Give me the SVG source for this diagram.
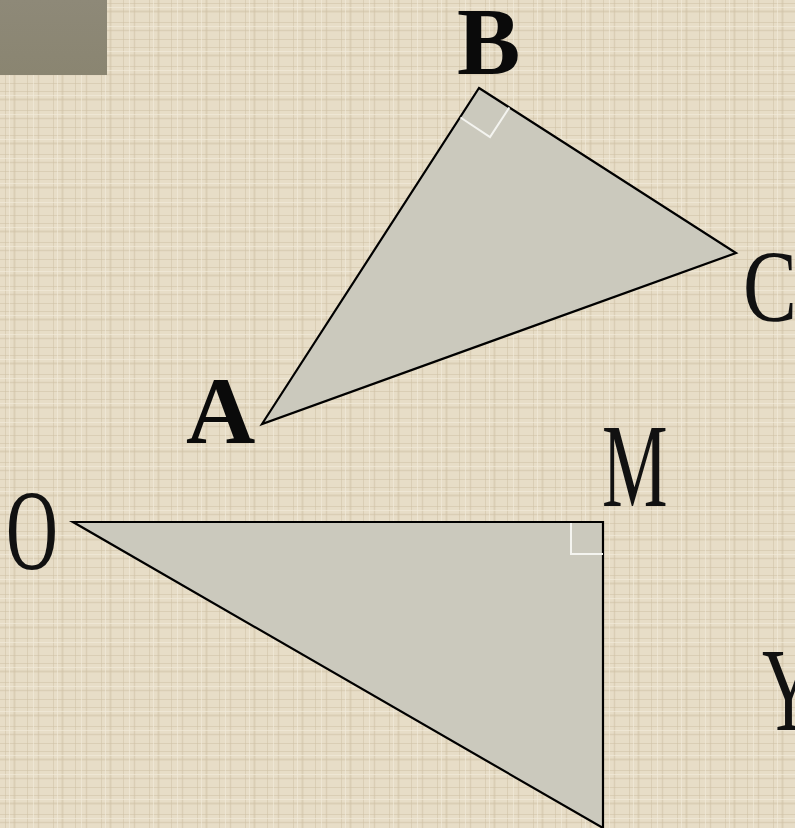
<svg xmlns="http://www.w3.org/2000/svg" width="795" height="828" viewBox="0 0 795 828">
  <style>
    .tri { fill: #cbc9bd; stroke: #000; stroke-width: 2.2; stroke-linejoin: miter; }
    .mark { fill: none; stroke: #f4f4f0; stroke-width: 2; }
    .lbl { font-family: "Liberation Serif", "Times New Roman", serif; fill: #111; }
    .bold { font-weight: bold; fill: #0a0a0a; }
  </style>
  <defs>
    <linearGradient id="box" x1="0" y1="0" x2="0" y2="1">
      <stop offset="0" stop-color="#8e8978"/>
      <stop offset="1" stop-color="#8a8571"/>
    </linearGradient>
    <pattern id="tex" width="48" height="44" patternUnits="userSpaceOnUse">
      <rect width="48" height="44" fill="#e7ddc7"/>
      <g stroke="#cdbfa3" stroke-opacity="0.5">
        <line x1="0" y1="3.5" x2="48" y2="3.5" stroke-width="1"/>
        <line x1="0" y1="11.5" x2="48" y2="11.5" stroke-width="2"/>
        <line x1="0" y1="22.5" x2="48" y2="22.5" stroke-width="1"/>
        <line x1="0" y1="30.5" x2="48" y2="30.5" stroke-width="1.5"/>
        <line x1="0" y1="39.5" x2="48" y2="39.5" stroke-width="1"/>
        <line x1="5.5" y1="0" x2="5.5" y2="44" stroke-width="1"/>
        <line x1="14.5" y1="0" x2="14.5" y2="44" stroke-width="2"/>
        <line x1="27.5" y1="0" x2="27.5" y2="44" stroke-width="1"/>
        <line x1="38.5" y1="0" x2="38.5" y2="44" stroke-width="1.5"/>
      </g>
      <g stroke="#f3ecdc" stroke-opacity="0.6">
        <line x1="0" y1="7.5" x2="48" y2="7.5" stroke-width="1"/>
        <line x1="0" y1="26.5" x2="48" y2="26.5" stroke-width="1"/>
        <line x1="9.5" y1="0" x2="9.5" y2="44" stroke-width="1"/>
        <line x1="33.5" y1="0" x2="33.5" y2="44" stroke-width="1"/>
      </g>
    </pattern>
  </defs>

  <rect id="background" width="795" height="828" fill="url(#tex)"/>
  <rect id="corner-box" x="0" y="0" width="107" height="75" fill="url(#box)"/>

  <g id="triangle-ABC">
    <polygon class="tri" points="479,88 736,253 262,424"/>
    <polyline class="mark" points="509.3,107.5 490,137 460.5,117.5"/>
  </g>

  <g id="triangle-OMY">
    <polygon class="tri" points="73,522 603,522 603,828"/>
    <polyline class="mark" points="571,523 571,554 603,554"/>
  </g>

  <g id="labels">
    <text id="label-B" class="lbl bold" x="457" y="74" font-size="95">B</text>
    <text id="label-A" class="lbl bold" x="186" y="443" font-size="96">A</text>
    <text id="label-C" class="lbl" font-size="101" transform="translate(743,321) scale(0.8,1)">C</text>
    <text id="label-M" class="lbl" font-size="119" transform="translate(602,506) scale(0.62,1)">M</text>
    <text id="label-O" class="lbl" font-size="114" transform="translate(6,569) scale(0.63,1)">O</text>
    <text id="label-Y" class="lbl" font-size="118" transform="translate(762,730) scale(0.62,1)">Y</text>
  </g>
</svg>
